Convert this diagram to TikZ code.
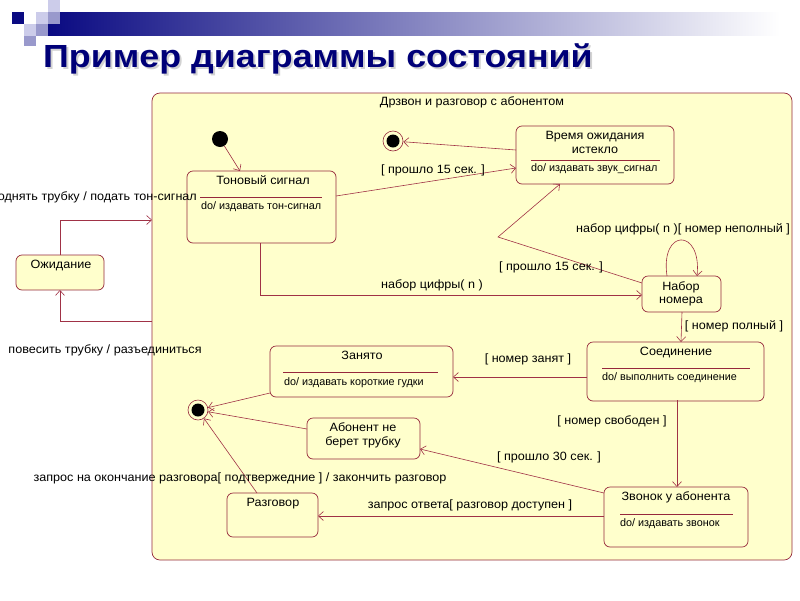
\documentclass[tikz,border=0pt]{standalone}
\usepackage{fontspec}
\setmainfont{Liberation Sans}
\newfontfamily\lblfont[FakeStretch=1.05]{Liberation Sans}
\newfontfamily\ttlfont[FakeStretch=1.12]{Liberation Sans}
\usetikzlibrary{arrows.meta}
\definecolor{bd}{RGB}{150,40,60}
\definecolor{ln}{RGB}{160,50,70}
\definecolor{fillc}{RGB}{255,255,204}
\definecolor{navyc}{RGB}{10,10,130}
\definecolor{titlec}{RGB}{0,0,120}
\definecolor{sqmed}{RGB}{153,153,204}
\definecolor{sqlight}{RGB}{204,204,234}
\begin{document}
\begin{tikzpicture}[x=1pt,y=-1pt,
  box/.style={draw=bd, fill=fillc, line width=0.7pt, rounded corners=6pt, inner sep=0pt, outer sep=0pt, anchor=north west},
  lbl/.style={inner sep=0pt, font=\lblfont\fontsize{12}{14}\selectfont, text height=8.5pt, text depth=2.5pt},
  dol/.style={inner sep=0pt, font=\fontsize{10.8}{13}\selectfont, text height=8pt, text depth=2pt, anchor=west},
  arr/.style={draw=ln, line width=0.6pt, -{Straight Barb[length=5pt,width=9pt]}},
  sep/.style={draw=bd, line width=0.6pt}]
\useasboundingbox (0,0) rectangle (800,600);
\fill[white] (0,0) rectangle (800,600);
% decoration
\shade[left color=navyc, right color=white] (48,12) rectangle (780,35);
\fill[sqlight] (48,0) rectangle (60,12);
\fill[navyc] (12,12) rectangle (24,24);
\fill[sqlight] (36,12) rectangle (48,24);
\fill[sqmed] (48,12) rectangle (60,24);
\fill[sqlight] (24,24) rectangle (36,36);
\fill[sqmed] (36,24) rectangle (48,36);
\fill[sqmed] (24,36) rectangle (36,46);
% title
\node[anchor=base west, inner sep=0pt, text=gray!35, font=\ttlfont\fontsize{32}{36}\selectfont\bfseries] (titleS) at (45,69) {Пример диаграммы состояний};
\node[anchor=base west, inner sep=0pt, text=titlec, font=\ttlfont\fontsize{32}{36}\selectfont\bfseries] (title) at (43,67) {Пример диаграммы состояний};
% composite
\node[box, rounded corners=8pt, minimum width=640pt, minimum height=467pt] (comp) at (152,93) {};
\node[lbl] (compT) at (472,102) {Дрзвон и разговор с абонентом};
% states
\node[box, minimum width=149pt, minimum height=72pt] (ton) at (187,171) {};
\node[lbl] (tonT) at (263,181) {Тоновый сигнал};
\draw[sep] (200,197) -- (322,197);
\node[dol] (tonD) at (201,206) {do/ издавать тон-сигнал};

\node[box, minimum width=158pt, minimum height=58pt] (tout) at (516,126) {};
\node[lbl] (toutT1) at (595,136) {Время ожидания};
\node[lbl] (toutT2) at (595,150) {истекло};
\draw[sep] (531,160) -- (660,160);
\node[dol] (toutD) at (531,168) {do/ издавать звук\_сигнал};

\node[box, minimum width=88pt, minimum height=35pt] (wait) at (16,255) {};
\node[lbl] (waitT) at (61,265) {Ожидание};

\node[box, minimum width=79pt, minimum height=36pt] (dial) at (642,276) {};
\node[lbl] (dialT1) at (681,287) {Набор};
\node[lbl] (dialT2) at (681,300) {номера};

\node[box, minimum width=177pt, minimum height=59pt] (conn) at (587,342) {};
\node[lbl] (connT) at (676,352) {Соединение};
\draw[sep] (602,368) -- (750,368);
\node[dol] (connD) at (602,377) {do/ выполнить соединение};

\node[box, minimum width=183pt, minimum height=51pt] (busy) at (270,346) {};
\node[lbl] (busyT) at (362,356) {Занято};
\draw[sep] (283,372) -- (438,372);
\node[dol] (busyD) at (284,382) {do/ издавать короткие гудки};

\node[box, minimum width=113pt, minimum height=41pt] (noans) at (307,418) {};
\node[lbl] (noansT1) at (363,428) {Абонент не};
\node[lbl] (noansT2) at (363,442) {берет трубку};

\node[box, minimum width=144pt, minimum height=60pt] (ring) at (604,487) {};
\node[lbl] (ringT) at (676,497) {Звонок у абонента};
\draw[sep] (620,514) -- (733,514);
\node[dol] (ringD) at (620,523) {do/ издавать звонок};

\node[box, minimum width=91pt, minimum height=44pt] (talk) at (227,493) {};
\node[lbl] (talkT) at (273,503) {Разговор};

% pseudo states
\node[circle, fill=black, minimum size=16pt, inner sep=0pt] (init) at (220,139) {};
\node[circle, draw=bd, fill=fillc, minimum size=20pt, inner sep=0pt, line width=0.6pt] (fin1) at (393,141) {};
\fill[black] (fin1.center) circle (6.5pt);
\node[circle, draw=bd, fill=fillc, minimum size=20pt, inner sep=0pt, line width=0.6pt] (fin2) at (198,410) {};
\fill[black] (fin2.center) circle (6.5pt);

% coordinates
\coordinate (tonB) at (260,243);
\coordinate (tonR) at (336,196);
\coordinate (toutL1) at (516,150);
\coordinate (toutL2) at (516,168);
\coordinate (toutB) at (560,184);
\coordinate (corner) at (498,237);
\coordinate (dialUL) at (642,283);
\coordinate (dialL) at (642,295);
\coordinate (loopA) at (667,276);
\coordinate (loopB) at (697,276);
\coordinate (dialB) at (682,312);
\coordinate (connT0) at (681,342);
\coordinate (connL) at (587,377);
\coordinate (busyR) at (453,377);
\coordinate (connB) at (677,400);
\coordinate (ringT0) at (677,487);
\coordinate (ringL1) at (604,493);
\coordinate (noansR) at (420,449);
\coordinate (ringL2) at (604,516);
\coordinate (talkR) at (318,516);
\coordinate (busyLL) at (270,393);
\coordinate (noansL) at (307,429);
\coordinate (talkTop) at (257,493);
\coordinate (compL1) at (152,220);
\coordinate (compL2) at (152,321);
\coordinate (waitTop) at (60,255);
\coordinate (waitBot) at (60,290);

% transitions
\draw[arr] (init) -- (240,171);
\draw[arr] (toutL1) -- (fin1);
\draw[arr] (tonR) -- (toutL2);
\draw[arr] (dialUL) -- (corner) -- (toutB);
\draw[arr] (tonB) |- (dialL);
\draw[arr] (loopA) .. controls (660,228) and (702,228) .. (loopB);
\draw[arr] (dialB) -- (connT0);
\draw[arr] (connL) -- (busyR);
\draw[arr] (connB) -- (ringT0);
\draw[arr] (ringL1) -- (noansR);
\draw[arr] (ringL2) -- (talkR);
\draw[arr] (busyLL) -- (fin2);
\draw[arr] (noansL) -- (fin2);
\draw[arr] (talkTop) -- (fin2);
\draw[arr] (waitTop) |- (compL1);
\draw[arr] (compL2) -| (waitBot);

% labels
\node[lbl] (l1) at (433,170) {[ прошло 15 сек. ]};
\node[lbl] (l2) at (551,267) {[ прошло 15 сек. ]};
\node[lbl] (l3) at (432,285) {набор цифры( n )};
\node[lbl] (l4) at (683,229) {набор цифры( n )[ номер неполный ]};
\node[lbl] (l5) at (734,326) {[ номер полный ]};
\node[lbl] (l6) at (528,359) {[ номер занят ]};
\node[lbl] (l7) at (612,421) {[ номер свободен ]};
\node[lbl] (l8) at (549,457) {[ прошло 30 сек. ]};
\node[lbl] (l9) at (470,505) {запрос ответа[ разговор доступен ]};
\node[lbl] (l10) at (240,478) {запрос на окончание разговора[ подтвержедние ] / закончить разговор};
\node[lbl, anchor=east] (l11) at (197,197) {поднять трубку / подать тон-сигнал};
\node[lbl] (l12) at (105,350) {повесить трубку / разъединиться};
\end{tikzpicture}
\end{document}
